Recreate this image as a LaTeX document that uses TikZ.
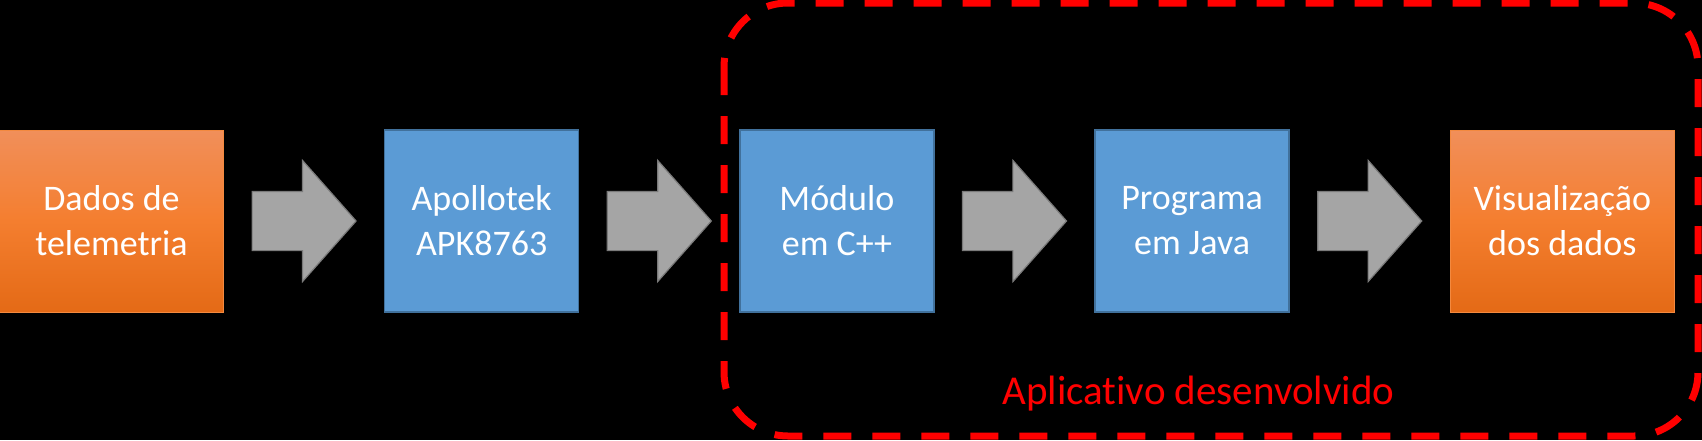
\documentclass[tikz,border=0pt]{standalone}
\usepackage{fontspec}
\setmainfont{Carlito}[Ligatures=NoCommon]
\usepackage{xcolor}
\usepackage{tikz}
\usetikzlibrary{positioning,shapes.arrows}
\definecolor{boxblue}{HTML}{5B9BD5}
\definecolor{blueline}{HTML}{41719C}
\definecolor{orangetop}{HTML}{F18F5A}
\definecolor{orangemid}{HTML}{F47E2F}
\definecolor{orangebot}{HTML}{E46A16}
\definecolor{orangeline}{HTML}{F3893F}
\definecolor{flowgray}{HTML}{A5A5A5}
\definecolor{flowline}{HTML}{7A7A7A}
\definecolor{framered}{HTML}{FF0000}
\tikzset{
  every node/.style={font=\fontsize{18}{22.5}\selectfont,text=white},
  stage/.style={draw=blueline,line width=0.75pt,fill=boxblue,align=center,inner sep=0pt,outer sep=0pt,minimum width=97pt,minimum height=91pt},
  endpoint/.style={stage,draw=orangeline,line width=0.5pt,top color=orangetop,bottom color=orangebot,middle color=orangemid,minimum width=112pt},
  flow/.style={single arrow,draw=flowline,line width=0.6pt,fill=flowgray,inner xsep=0pt,inner ysep=14.5pt,outer sep=0pt,minimum height=52pt,single arrow head extend=15.5pt,single arrow tip angle=97},
  appframe/.style={draw=framered,line width=3.5pt,dash pattern=on 14pt off 10.5pt,rounded corners=32pt},
  applabel/.style={font=\fontsize{20.5}{24}\selectfont,text=framered,inner sep=0pt}
}

\begin{document}
\begin{tikzpicture}[x=0.5pt,y=-0.5pt,node distance=14.3pt]
  \fill[black] (0,0) rectangle (1702,440);
  \useasboundingbox (0,0) rectangle (1702,440);

  \node[endpoint] (dados) at (111.5,221) {Dados de\\telemetria};
  \node[flow,right=of dados.east,anchor=tail] (f1) {};
  \node[stage,right=of f1.tip,anchor=west] (apk) {Apollotek\\APK8763};
  \node[flow,right=of apk.east,anchor=tail] (f2) {};
  \node[stage,right=of f2.tip,anchor=west] (modulo) {Módulo\\em C++};
  \node[flow,right=of modulo.east,anchor=tail] (f3) {};
  \node[stage,right=of f3.tip,anchor=west] (java) {Programa\\em Java};
  \node[flow,right=of java.east,anchor=tail] (f4) {};
  \node[endpoint,right=of f4.tip,anchor=west] (visual) {Visualização\\dos dados};

  \draw[appframe] (724,3) rectangle (1698,436);
  \node[applabel,anchor=base west] (applbl) at (1002,404) {Aplicativo desenvolvido};
\end{tikzpicture}
\end{document}
